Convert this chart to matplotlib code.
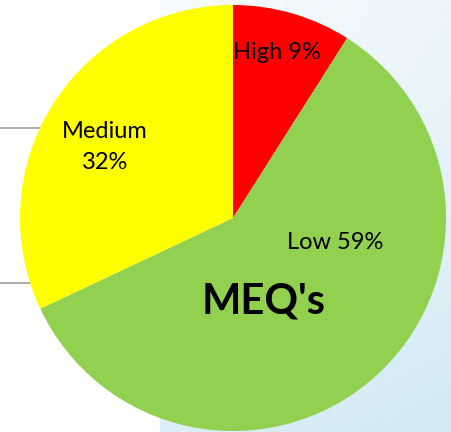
import matplotlib.pyplot as plt
import numpy as np
from matplotlib.lines import Line2D

# slice data (clockwise from 12 o'clock)
categories = ['High', 'Low', 'Medium']
shares = [9, 59, 32]
colors = ['#ff0000', '#92d050', '#ffff00']
title = "MEQ's"

plt.rcParams['font.family'] = ['Lato', 'DejaVu Sans']

W, H = 452, 432
fig = plt.figure(figsize=(W / 100, H / 100), dpi=100)
fig.patch.set_facecolor('white')

# light blue slide background on the right
bg = fig.add_axes([160 / W, 0, 1 - 160 / W, 1], zorder=0)
gx, gy = np.meshgrid(np.linspace(0, 1, 200), np.linspace(0, 1, 200))
t = np.clip(0.35 * gx + 0.75 * gy ** 1.5, 0, 1)
c0 = np.array([0.97, 0.985, 0.995])
c1 = np.array([0.83, 0.92, 0.96])
img = c0[None, None, :] * (1 - t[..., None]) + c1[None, None, :] * t[..., None]
bg.imshow(img, aspect='auto', origin='upper', extent=[0, 1, 0, 1])
bg.axis('off')

# grey rules on the left
for y, x1 in [(128, 45), (283, 32)]:
    fig.add_artist(Line2D([0, x1 / W], [1 - y / H, 1 - y / H],
                          color='#a6a6a6', lw=1.3, zorder=1))

# pie axes: centre at (233, 218) px, radius 213 px
cx, cy, r = 233, 218, 213
ax = fig.add_axes([0, 0, 1, 1], zorder=2)
ax.patch.set_alpha(0)
ax.pie(shares, colors=colors, startangle=90, counterclock=False,
       radius=1, wedgeprops=dict(linewidth=0))
ax.set_xlim(-cx / r, (W - cx) / r)
ax.set_ylim(-(H - cy) / r, cy / r)
ax.set_aspect('auto')
ax.axis('off')

fs = 17
ax.text(0.207, 0.775, f'{categories[0]} {shares[0]}%', ha='center', va='center', fontsize=fs)
ax.text(-0.60, 0.335, f'{categories[2]}\n{shares[2]}%', ha='center', va='center',
        fontsize=fs, linespacing=1.6)
ax.text(0.48, -0.117, f'{categories[1]} {shares[1]}%', ha='center', va='center', fontsize=fs)
ax.text(0.145, -0.39, title, ha='center', va='center', fontsize=30, fontweight='bold')

fig.savefig('out.png', dpi=100)
